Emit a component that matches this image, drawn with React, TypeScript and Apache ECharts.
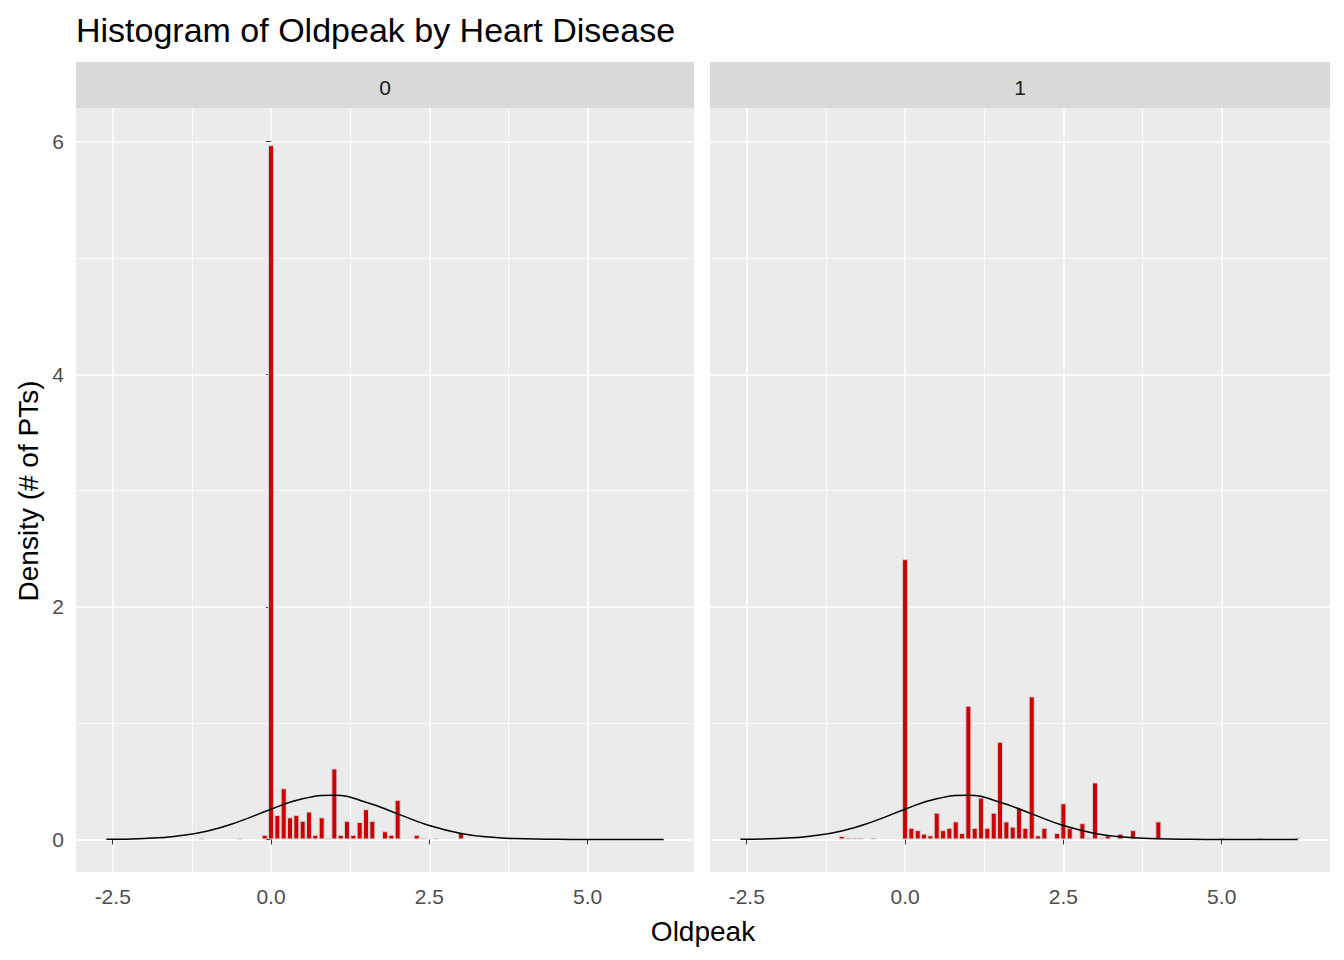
import * as echarts from 'echarts';
import { useEffect, useRef } from 'react';

const panels = ['0', '1'];

// histogram bins (bin centre, density), width 0.1
const bins0 = [-1.1, -0.5, -0.1, 0, 0.1, 0.2, 0.3, 0.4, 0.5, 0.6, 0.7, 0.8, 0.9, 1.0, 1.1, 1.2, 1.3, 1.4, 1.5, 1.6, 1.8, 1.9, 2.0, 2.3, 2.4, 2.6, 3.0];
const dens0 = [0.01, 0.01, 0.04, 5.97, 0.21, 0.44, 0.19, 0.21, 0.16, 0.24, 0.04, 0.19, 0.01, 0.61, 0.04, 0.16, 0.04, 0.15, 0.26, 0.16, 0.07, 0.04, 0.34, 0.04, 0.01, 0.01, 0.06];

const bins1 = [-1.0, -0.9, -0.8, -0.7, -0.5, 0, 0.1, 0.2, 0.3, 0.4, 0.5, 0.6, 0.7, 0.8, 0.9, 1.0, 1.1, 1.2, 1.3, 1.4, 1.5, 1.6, 1.7, 1.8, 1.9, 2.0, 2.1, 2.2, 2.4, 2.5, 2.6, 2.8, 2.9, 3.0, 3.1, 3.2, 3.4, 3.6, 4.0, 5.0, 5.6, 6.2];
const dens1 = [0.03, 0.015, 0.015, 0.015, 0.015, 2.41, 0.1, 0.08, 0.05, 0.035, 0.23, 0.08, 0.1, 0.155, 0.055, 1.15, 0.1, 0.36, 0.1, 0.23, 0.84, 0.155, 0.11, 0.27, 0.1, 1.23, 0.035, 0.1, 0.055, 0.31, 0.1, 0.14, 0.015, 0.49, 0.015, 0.035, 0.05, 0.08, 0.155, 0.015, 0.015, 0.015];

// fitted normal curve
const curveX = [-2.6, -2.0, -1.5, -1.0, -0.5, 0.0, 0.5, 1.0, 1.5, 2.0, 2.5, 3.0, 3.5, 4.0, 4.5, 5.0, 5.5, 6.2];
const curveY = [0.001, 0.009, 0.028, 0.073, 0.155, 0.26, 0.35, 0.38, 0.32, 0.22, 0.12, 0.052, 0.018, 0.005, 0.001, 0, 0, 0];

const xMajor = [-2.5, 0, 2.5, 5.0];
const xMinor = [-1.25, 1.25, 3.75];
const yMajor = [0, 2, 4, 6];
const yMinor = [1, 3, 5];

const grids = [
  { left: 76, top: 108, width: 618, height: 764 },
  { left: 710, top: 108, width: 620, height: 764 },
];

const FONT = 'Liberation Sans, Arial';

export default function App() {
  const ref = useRef<HTMLDivElement>(null);

  useEffect(() => {
    if (!ref.current) return;
    const chart = echarts.init(ref.current, null, { renderer: 'svg' });
    const label = { color: '#4D4D4D', fontSize: 21, fontFamily: FONT };

    const gridLines = (idx: number) => {
      const line = (w: number) => ({ color: '#FFFFFF', width: w, type: 'solid' as const });
      return {
        name: 'grid' + idx,
        type: 'line',
        xAxisIndex: idx,
        yAxisIndex: idx,
        data: [],
        silent: true,
        z: 0,
        markLine: {
          silent: true,
          z: 0,
          symbol: 'none',
          label: { show: false },
          animation: false,
          data: [
            ...xMinor.map((v) => ({ xAxis: v, lineStyle: line(0.7) })),
            ...yMinor.map((v) => ({ yAxis: v, lineStyle: line(0.7) })),
            ...xMajor.map((v) => ({ xAxis: v, lineStyle: line(1.5) })),
            ...yMajor.map((v) => ({ yAxis: v, lineStyle: line(1.5) })),
          ],
        },
      };
    };

    const bars = [bins0.map((b, i) => [b, dens0[i]]), bins1.map((b, i) => [b, dens1[i]])];
    const curve = curveX.map((x, i) => [x, curveY[i]]);

    const series: any[] = [];
    panels.forEach((_, i) => {
      series.push(gridLines(i));
      series.push({
        type: 'bar',
        xAxisIndex: i,
        yAxisIndex: i,
        data: bars[i],
        barWidth: 6,
        itemStyle: { color: '#CC0000', borderColor: '#D3D3D3', borderWidth: 1 },
        z: 6,
      });
      series.push({
        type: 'line',
        xAxisIndex: i,
        yAxisIndex: i,
        data: curve,
        smooth: true,
        showSymbol: false,
        lineStyle: { color: '#000000', width: 1.5 },
        z: 7,
      });
    });

    chart.setOption({
      animation: false,
      backgroundColor: '#FFFFFF',
      grid: grids.map((g) => ({ ...g, backgroundColor: '#EBEBEB', show: true, borderWidth: 0 })),
      xAxis: grids.map((_, i) => ({
        type: 'value',
        gridIndex: i,
        min: -3.08,
        max: i === 0 ? 6.68 : 6.71,
        splitLine: { show: false },
        axisLine: { show: false },
        axisTick: { show: true, customValues: xMajor, length: 5, lineStyle: { color: '#333333' } },
        axisLabel: { ...label, customValues: xMajor, formatter: (v: number) => v.toFixed(1), margin: 14 },
      })),
      yAxis: grids.map((_, i) => ({
        type: 'value',
        gridIndex: i,
        min: -0.28,
        max: 6.29,
        splitLine: { show: false },
        axisLine: { show: false },
        axisTick: { show: i === 0, customValues: yMajor, length: 5, lineStyle: { color: '#333333' } },
        axisLabel: { ...label, show: i === 0, customValues: yMajor, margin: 12 },
      })),
      graphic: [
        ...grids.map((g, i) => ({
          type: 'group',
          children: [
            { type: 'rect', shape: { x: g.left, y: 62, width: g.width, height: 46 }, style: { fill: '#D9D9D9' } },
            {
              type: 'text',
              x: g.left + g.width / 2,
              y: 87,
              style: { text: panels[i], fill: '#1A1A1A', fontSize: 21, fontFamily: FONT, align: 'center', verticalAlign: 'middle' },
            },
          ],
        })),
        {
          type: 'text',
          x: 76,
          y: 30,
          style: { text: 'Histogram of Oldpeak by Heart Disease', fill: '#000000', fontSize: 34, fontFamily: FONT, verticalAlign: 'middle' },
        },
        {
          type: 'text',
          x: 703,
          y: 931,
          style: { text: 'Oldpeak', fill: '#000000', fontSize: 28, fontFamily: FONT, align: 'center', verticalAlign: 'middle' },
        },
        {
          type: 'text',
          x: 28,
          y: 491,
          rotation: Math.PI / 2,
          style: { text: 'Density (# of PTs)', fill: '#000000', fontSize: 28, fontFamily: FONT, align: 'center', verticalAlign: 'middle' },
        },
      ],
      series,
    });

    return () => chart.dispose();
  }, []);

  return <div ref={ref} style={{ position: 'fixed', left: 0, top: 0, width: 1344, height: 960 }} />;
}
